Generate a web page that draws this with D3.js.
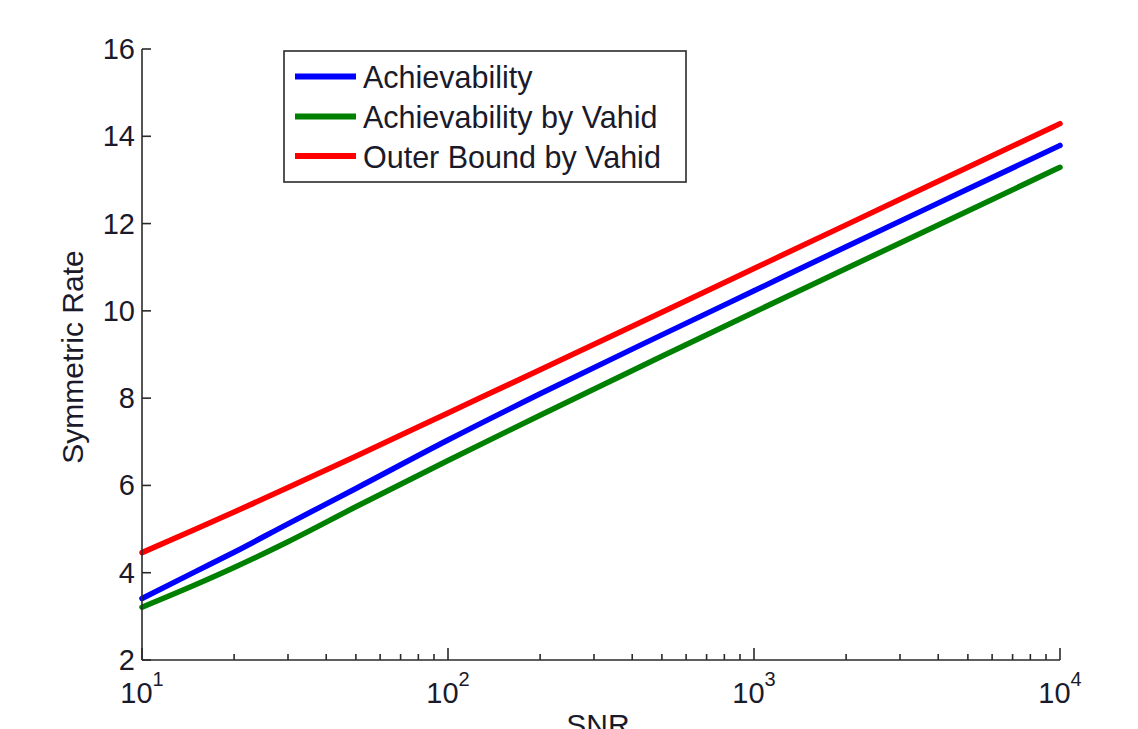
<!DOCTYPE html>
<html><head><meta charset="utf-8">
<script src="https://cdn.jsdelivr.net/npm/d3@7"></script>
<style>
html,body{margin:0;padding:0;background:#fff;}
svg text{font-family:"Liberation Sans",Arial,sans-serif;fill:#1a1a2a;}
</style></head>
<body>
<svg id="c" width="1138" height="729"></svg>
<script>
// Data
const snr = [10, 15, 20, 30, 50, 100, 200, 500, 1000, 2000, 5000, 10000];
const achievability = [3.41, 4.03, 4.47, 5.12, 5.93, 7.04, 8.10, 9.45, 10.46, 11.47, 12.79, 13.79];
const achievabilityVahid = [3.21, 3.73, 4.12, 4.71, 5.51, 6.57, 7.61, 8.96, 9.97, 10.97, 12.29, 13.29];
const outerBoundVahid = [4.46, 5.00, 5.39, 5.95, 6.67, 7.66, 8.65, 9.97, 10.97, 11.97, 13.29, 14.29];
const seriesNames = ["Achievability", "Achievability by Vahid", "Outer Bound by Vahid"];
const seriesColors = ["#0000ff", "#008000", "#ff0000"];
const yTicks = [2, 4, 6, 8, 10, 12, 14, 16];
const xMajor = [10, 100, 1000, 10000];
const xMajorExp = ["1", "2", "3", "4"];

const svg = d3.select("#c");
const L = 142, R = 1060, T = 49, B = 660;
const x = d3.scaleLog().domain([10, 10000]).range([L, R]);
const y = d3.scaleLinear().domain([2, 16]).range([B, T]);

const axisColor = "#2a2a2a";

// curves
const series = [achievability, achievabilityVahid, outerBoundVahid];
const line = d3.line().x((d, i) => x(snr[i])).y(d => y(d)).curve(d3.curveMonotoneX);
series.forEach((vals, k) => {
  svg.append("path").datum(vals).attr("d", line)
    .attr("fill", "none").attr("stroke", seriesColors[k])
    .attr("stroke-width", 5.5).attr("stroke-linecap", "round").attr("stroke-linejoin", "round");
});

// axes lines
svg.append("line").attr("x1", L).attr("x2", L).attr("y1", T).attr("y2", B)
  .attr("stroke", axisColor).attr("stroke-width", 1.6);
svg.append("line").attr("x1", L).attr("x2", R).attr("y1", B).attr("y2", B)
  .attr("stroke", axisColor).attr("stroke-width", 1.6);

// y ticks
yTicks.forEach(v => {
  svg.append("line").attr("x1", L).attr("x2", L + 9).attr("y1", y(v)).attr("y2", y(v))
    .attr("stroke", axisColor).attr("stroke-width", 1.6);
  svg.append("text").attr("x", 135).attr("y", y(v) + 10).attr("text-anchor", "end")
    .attr("font-size", 29).text(v);
});

// x ticks (log)
const minor = [];
for (let d = 10; d < 10000; d *= 10) for (let m = 2; m <= 9; m++) minor.push(d * m);
minor.forEach(v => {
  svg.append("line").attr("x1", x(v)).attr("x2", x(v)).attr("y1", B).attr("y2", B - 6)
    .attr("stroke", axisColor).attr("stroke-width", 1.6);
});
xMajor.forEach((v, i) => {
  svg.append("line").attr("x1", x(v)).attr("x2", x(v)).attr("y1", B).attr("y2", B - 12)
    .attr("stroke", axisColor).attr("stroke-width", 1.6);
  const t = svg.append("text").attr("x", x(v)).attr("y", 703).attr("text-anchor", "middle")
    .attr("font-size", 29);
  t.append("tspan").text("10");
  t.append("tspan").attr("dy", -17).attr("font-size", 20).text(xMajorExp[i]);
});

// axis labels
svg.append("text").attr("transform", "translate(83,357) rotate(-90)")
  .attr("text-anchor", "middle").attr("font-size", 30).text("Symmetric Rate");
svg.append("text").attr("x", 598).attr("y", 735).attr("text-anchor", "middle")
  .attr("font-size", 30).text("SNR");

// legend
svg.append("rect").attr("x", 284).attr("y", 51).attr("width", 402).attr("height", 131)
  .attr("fill", "#fff").attr("stroke", axisColor).attr("stroke-width", 1.6);
const rowsY = [76.5, 116.5, 156];
seriesNames.forEach((n, k) => {
  svg.append("line").attr("x1", 295).attr("x2", 356).attr("y1", rowsY[k]).attr("y2", rowsY[k])
    .attr("stroke", seriesColors[k]).attr("stroke-width", 6);
  svg.append("text").attr("x", 363).attr("y", rowsY[k] + 11.5).attr("font-size", 30.5).text(n);
});
</script>
</body></html>
